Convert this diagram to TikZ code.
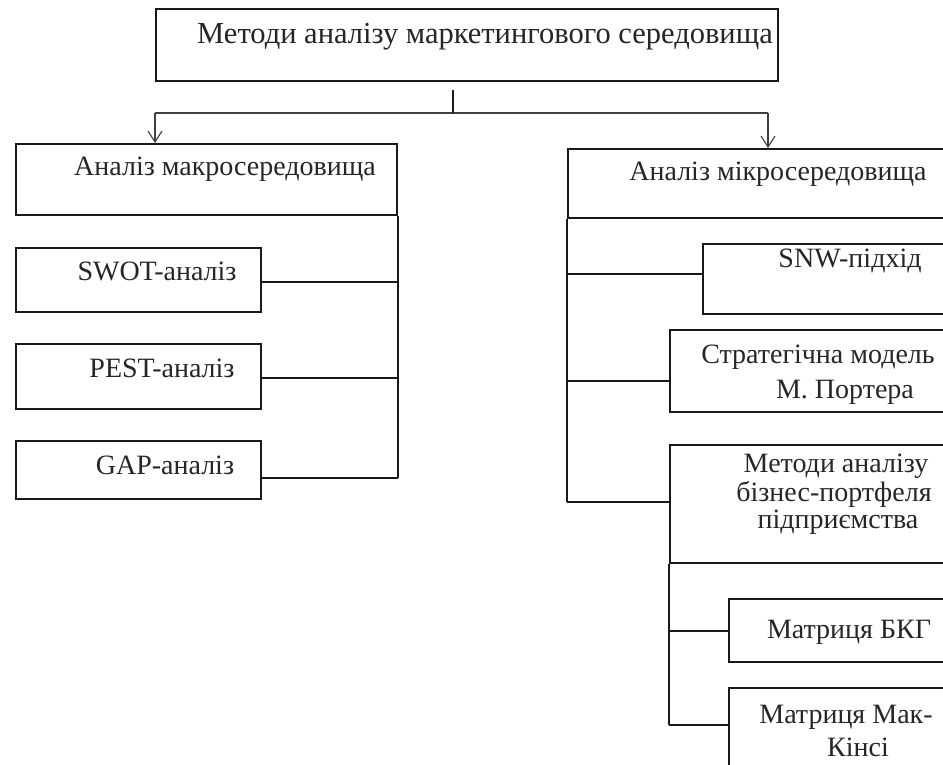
\documentclass[tikz,border=0pt]{standalone}
\usepackage{fontspec}
\setmainfont{Liberation Serif}
\usetikzlibrary{arrows.meta}
\begin{document}
\begin{tikzpicture}[x=1pt,y=-1pt,
  boxst/.style={draw=black!90,line width=2.1pt,rectangle,inner sep=0pt,anchor=north west},
  txt/.style={anchor=base,inner sep=0pt,font=\fontsize{28}{30}\selectfont,text=black!85},
  bus/.style={draw=black!90,line width=1.9pt},
  arr/.style={draw=black!75,line width=1.1pt,-{Straight Barb[length=11pt,width=14pt]}},
  thin/.style={draw=black!75,line width=1.1pt}]
\useasboundingbox (0,0) rectangle (943,764);
\clip (0,0) rectangle (943,764);
\fill[white] (0,0) rectangle (943,764);
% boxes
\node[boxst,minimum width=622pt,minimum height=72pt] (top) at (155,8) {};
\node[boxst,minimum width=381pt,minimum height=71pt] (macro) at (15,143) {};
\node[boxst,minimum width=245pt,minimum height=64pt] (swot) at (15,247) {};
\node[boxst,minimum width=245pt,minimum height=65pt] (pest) at (15,343) {};
\node[boxst,minimum width=245pt,minimum height=58pt] (gap) at (15,440) {};
\node[boxst,minimum width=400pt,minimum height=69pt] (micro) at (567,148) {};
\node[boxst,minimum width=260pt,minimum height=70pt] (snw) at (702,243) {};
\node[boxst,minimum width=290pt,minimum height=82pt] (strat) at (669,329) {};
\node[boxst,minimum width=290pt,minimum height=118pt] (meth) at (669,444) {};
\node[boxst,minimum width=230pt,minimum height=63pt] (bkg) at (728,598) {};
\node[boxst,minimum width=230pt,minimum height=110pt] (mck) at (728,687) {};
% texts
\node[txt,font=\fontsize{30.5}{32}\selectfont] (ttop) at (485,43) {Методи аналізу маркетингового середовища};
\node[txt] (tmacro) at (225,175) {Аналіз макросередовища};
\node[txt] (tswot) at (157,280) {SWOT-аналіз};
\node[txt] (tpest) at (162,377) {PEST-аналіз};
\node[txt] (tgap) at (165,474) {GAP-аналіз};
\node[txt] (tmicro) at (778,180) {Аналіз мікросередовища};
\node[txt] (tsnw) at (850,267) {SNW-підхід};
\node[txt] (tstrat1) at (818,363) {Стратегічна модель};
\node[txt] (tstrat2) at (845,398) {М. Портера};
\node[txt] (tmeth1) at (836,472) {Методи аналізу};
\node[txt] (tmeth2) at (834,501) {бізнес-портфеля};
\node[txt] (tmeth3) at (838,528) {підприємства};
\node[txt] (tbkg) at (849,638) {Матриця БКГ};
\node[txt] (tmck1) at (846,723) {Матриця Мак-};
\node[txt] (tmck2) at (858,756) {Кінсі};
% top connectors
\coordinate (stemtop) at (453,90);
\coordinate (junc) at (453,113);
\coordinate (aL) at (155,113);
\coordinate (aR) at (768,113);
\draw[thin] (aL) -- (aR);
\draw[arr] (aL) -- (aL |- macro.north);
\draw[arr] (aR) -- (aR |- micro.north);
\draw[bus] (stemtop) -- (junc);
% left bus
\coordinate (lbus) at (macro.south east);
\draw[bus] (macro.south east) -- ([yshift=-8pt]gap.east -| lbus);
\draw[bus] ([yshift=-2pt]swot.east) -- ([yshift=-2pt]swot.east -| lbus);
\draw[bus] ([yshift=-1.5pt]pest.east) -- ([yshift=-1.5pt]pest.east -| lbus);
\draw[bus] ([yshift=-8pt]gap.east) -- ([yshift=-8pt]gap.east -| lbus);
% right bus
\coordinate (rbus) at (micro.south west);
\draw[bus] (micro.south west) -- ([yshift=2pt]meth.west -| rbus);
\draw[bus] ([yshift=5pt]snw.west -| rbus) -- ([yshift=5pt]snw.west);
\draw[bus] ([yshift=-10pt]strat.west -| rbus) -- ([yshift=-10pt]strat.west);
\draw[bus] ([yshift=2pt]meth.west -| rbus) -- ([yshift=2pt]meth.west);
% sub bus
\coordinate (sbus) at (meth.south west);
\draw[bus] (meth.south west) -- ([yshift=-38pt]mck.north west -| sbus);
\draw[bus] (bkg.west -| sbus) -- (bkg.west);
\draw[bus] ([yshift=-38pt]mck.north west -| sbus) -- ([yshift=-38pt]mck.north west);
\end{tikzpicture}
\end{document}
